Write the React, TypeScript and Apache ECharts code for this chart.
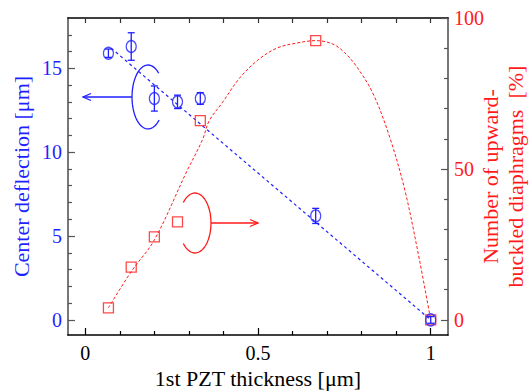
import React, { useEffect, useRef } from "react";
import * as echarts from "echarts";

// PZT thickness [µm]
const thickness = [0.067, 0.133, 0.2, 0.267, 0.333, 0.667, 1.0];
// Center deflection [µm] and error
const deflection = [15.9, 16.3, 13.2, 13.0, 13.2, 6.2, 0];
const deflectionErr = [0.25, 0.82, 0.75, 0.4, 0.35, 0.45, 0.2];
// Number of upward-buckled diaphragms [%]
const buckled = [4, 17.5, 27.5, 32.5, 66, 92.5, 0];

// Linear fit line (deflection)
const fitDeflX = [0.075, 1.0];
const fitDeflY = [16.2, 0];

// Fit curve (buckled)
const fitBuckX = [0.067, 0.133, 0.2, 0.293, 0.339, 0.359, 0.397, 0.446, 0.499, 0.554, 0.612, 0.667, 0.716, 0.751, 0.786, 0.832, 0.881, 0.925, 0.962, 1.0];
const fitBuckY = [4, 16, 26.5, 49, 59.6, 66, 72, 80, 86, 90, 91.7, 92.5, 91.4, 88.5, 83.8, 75.2, 60.6, 43, 23, 0];

// Tick labels
const xMajor = [0, 0.5, 1];
const xMinor = [0.1, 0.2, 0.3, 0.4, 0.6, 0.7, 0.8, 0.9];
const xAll = [0, 0.1, 0.2, 0.3, 0.4, 0.5, 0.6, 0.7, 0.8, 0.9, 1];
const yLeftMajor = [0, 5, 10, 15];
const yLeftMinor = [1, 2, 3, 4, 6, 7, 8, 9, 11, 12, 13, 14, 16, 17];
const yRightMajor = [0, 50, 100];
const yRightMinor = [10, 20, 30, 40, 60, 70, 80, 90];

const BLUE = "#1f1fff";
const RED = "#ff1a1a";
const FONT = "'Liberation Serif', 'Times New Roman', serif";

function ellipseArc(cx: number, cy: number, rx: number, ry: number, a0: number, a1: number) {
  const pts: number[][] = [];
  const n = 40;
  for (let i = 0; i <= n; i++) {
    const a = ((a0 + ((a1 - a0) * i) / n) * Math.PI) / 180;
    pts.push([cx + rx * Math.cos(a), cy + ry * Math.sin(a)]);
  }
  return pts;
}

export default function App() {
  const ref = useRef<HTMLDivElement>(null);
  useEffect(() => {
    if (!ref.current) return;
    const chart = echarts.init(ref.current, undefined, { renderer: "svg" });
    const xRange = { min: -0.05, max: 1.05 };
    const leftRange = { min: -0.9, max: 18 };
    const rightRange = { min: -5, max: 100 };
    const noLine = { show: false };
    const option: any = {
      animation: false,
      grid: { left: 68, right: 82, top: 18, bottom: 57, containLabel: false, outerBoundsMode: "none" },
      xAxis: [
        {
          type: "value", position: "bottom", ...xRange,
          name: "1st PZT thickness [μm]", nameLocation: "middle", nameGap: 32, nameMoveOverlap: false,
          nameTextStyle: { color: "#000", fontSize: 22, fontFamily: FONT },
          axisLine: { show: true, onZero: false, lineStyle: { color: "#000", width: 1.5 } },
          axisTick: { show: true, inside: true, length: 7, customValues: xMajor, lineStyle: { color: "#000", width: 1.2 } },
          axisLabel: { customValues: xMajor, color: "#000", fontSize: 20, fontFamily: FONT, margin: 8 },
          splitLine: noLine,
        },
        {
          type: "value", position: "bottom", offset: 0, ...xRange,
          axisLine: { show: false, onZero: false },
          axisTick: { show: true, inside: true, length: 4, customValues: xMinor, lineStyle: { color: "#000", width: 1.2 } },
          axisLabel: { show: false }, splitLine: noLine,
        },
        {
          type: "value", position: "top", offset: 0, ...xRange,
          axisLine: { show: true, onZero: false, lineStyle: { color: "#000", width: 1.5 } },
          axisTick: { show: true, inside: true, length: 5, customValues: xAll, lineStyle: { color: "#333", width: 1.2 } },
          axisLabel: { show: false }, splitLine: noLine,
        },
      ],
      yAxis: [
        {
          type: "value", position: "left", ...leftRange,
          name: "Center deflection [μm]", nameLocation: "middle", nameGap: 36, nameRotate: 90, nameMoveOverlap: false,
          nameTextStyle: { color: BLUE, fontSize: 22, fontFamily: FONT },
          axisLine: { show: true, onZero: false, lineStyle: { color: "#777", width: 2 } },
          axisTick: { show: true, inside: true, length: 7, customValues: yLeftMajor, lineStyle: { color: "#555", width: 1.2 } },
          axisLabel: { customValues: yLeftMajor, color: BLUE, fontSize: 20, fontFamily: FONT, margin: 6 },
          splitLine: noLine,
        },
        {
          type: "value", position: "right", ...rightRange,
          name: "Number of upward-\nbuckled diaphragms  [%]", nameLocation: "middle", nameGap: 30, nameRotate: 90, nameMoveOverlap: false,
          nameTextStyle: { color: RED, fontSize: 22, fontFamily: FONT, lineHeight: 25 },
          axisLine: { show: true, onZero: false, lineStyle: { color: "#777", width: 2 } },
          axisTick: { show: true, inside: true, length: 7, customValues: yRightMajor, lineStyle: { color: "#555", width: 1.2 } },
          axisLabel: { customValues: yRightMajor, color: RED, fontSize: 20, fontFamily: FONT, margin: 6 },
          splitLine: noLine,
        },
        {
          type: "value", position: "left", offset: 0, ...leftRange,
          axisLine: { show: false, onZero: false },
          axisTick: { show: true, inside: true, length: 4, customValues: yLeftMinor, lineStyle: { color: "#555", width: 1.2 } },
          axisLabel: { show: false }, splitLine: noLine,
        },
        {
          type: "value", position: "right", offset: 0, ...rightRange,
          axisLine: { show: false, onZero: false },
          axisTick: { show: true, inside: true, length: 4, customValues: yRightMinor, lineStyle: { color: "#555", width: 1.2 } },
          axisLabel: { show: false }, splitLine: noLine,
        },
      ],
      series: [
        {
          type: "line", xAxisIndex: 0, yAxisIndex: 1, smooth: 0.35, showSymbol: false, symbol: "none",
          data: fitBuckX.map((x, i) => [x, fitBuckY[i]]),
          lineStyle: { color: RED, width: 1, type: [3, 2] }, z: 2,
        },
        {
          type: "line", xAxisIndex: 0, yAxisIndex: 0, showSymbol: false, symbol: "none",
          data: fitDeflX.map((x, i) => [x, fitDeflY[i]]),
          lineStyle: { color: BLUE, width: 1.2, type: [3, 3] }, z: 2,
        },
        {
          type: "scatter", xAxisIndex: 0, yAxisIndex: 1, symbol: "rect", symbolSize: 10,
          data: thickness.map((x, i) => [x, buckled[i]]),
          itemStyle: { color: "rgba(255,255,255,0)", borderColor: RED, borderWidth: 1.3 }, z: 3,
        },
        {
          type: "scatter", xAxisIndex: 0, yAxisIndex: 0, symbol: "circle", symbolSize: [10, 12],
          data: thickness.map((x, i) => [x, deflection[i]]),
          itemStyle: { color: "rgba(255,255,255,0)", borderColor: BLUE, borderWidth: 1.3 }, z: 4,
        },
        {
          type: "custom", xAxisIndex: 0, yAxisIndex: 0, z: 5,
          data: thickness.map((x, i) => [x, deflection[i], deflectionErr[i]]),
          renderItem: (params: any, api: any) => {
            const x = api.value(0), y = api.value(1), e = api.value(2);
            const top = api.coord([x, y + e]);
            const bot = api.coord([x, y - e]);
            const style = { stroke: BLUE, lineWidth: 1.3 };
            const w = 3.5;
            return {
              type: "group",
              children: [
                { type: "line", shape: { x1: top[0], y1: top[1], x2: bot[0], y2: bot[1] }, style },
                { type: "line", shape: { x1: top[0] - w, y1: top[1], x2: top[0] + w, y2: top[1] }, style },
                { type: "line", shape: { x1: bot[0] - w, y1: bot[1], x2: bot[0] + w, y2: bot[1] }, style },
              ],
            };
          },
        },
      ],
      graphic: [
        { type: "polyline", shape: { points: ellipseArc(148, 97, 16, 32, 46, 312) }, style: { stroke: BLUE, lineWidth: 1.3, fill: "none" } },
        { type: "line", shape: { x1: 132, y1: 97, x2: 83, y2: 97 }, style: { stroke: BLUE, lineWidth: 1.3 } },
        { type: "polyline", shape: { points: [[91, 93.5], [83, 97], [91, 100.5]] }, style: { stroke: BLUE, lineWidth: 1.3, fill: "none" } },
        { type: "polyline", shape: { points: ellipseArc(195, 223, 16, 30, -137, 137) }, style: { stroke: RED, lineWidth: 1.3, fill: "none" } },
        { type: "line", shape: { x1: 211, y1: 223, x2: 258, y2: 223 }, style: { stroke: RED, lineWidth: 1.3 } },
        { type: "polyline", shape: { points: [[250, 219.5], [258, 223], [250, 226.5]] }, style: { stroke: RED, lineWidth: 1.3, fill: "none" } },
      ],
    };
    chart.setOption(option);
    return () => chart.dispose();
  }, []);
  return <div ref={ref} style={{ width: 530, height: 392, position: "absolute", left: 0, top: 0 }} />;
}
